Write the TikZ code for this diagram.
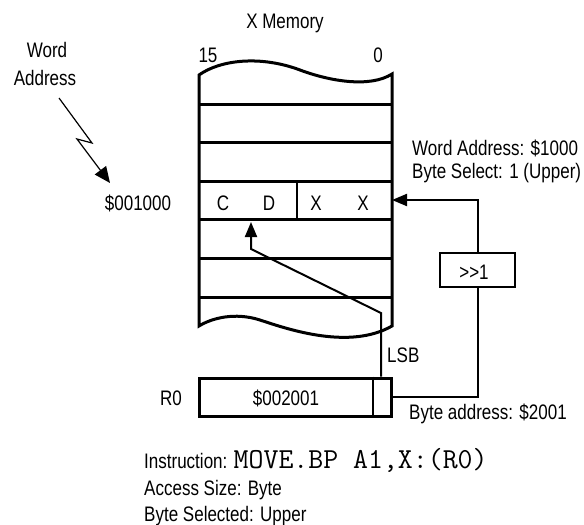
\documentclass[tikz,border=0pt]{standalone}
\usepackage{fontspec}
\setmainfont{Liberation Sans}[FakeStretch=0.81]
\usetikzlibrary{arrows.meta}
\begin{document}
\begin{tikzpicture}[x=1pt,y=-1pt,
  heavy/.style={line width=3pt},
  conn/.style={line width=2pt},
  txt/.style={inner sep=0pt, font=\fontsize{21}{27}\selectfont},
  tiparrow/.style={-{Triangle[length=15pt,width=12pt]}},
  boltarrow/.style={line width=1.2pt,-{Triangle[length=16pt,width=14pt]}}]
\useasboundingbox (0,0) rectangle (584,525);

% --- texts
\node[txt, anchor=base] (title) at (285,28) {X Memory};
\node[txt, anchor=base] (b15) at (208,62) {15};
\node[txt, anchor=base] (b0) at (378,62) {0};
\node[txt, anchor=base] (wlbl1) at (47,57) {Word};
\node[txt, anchor=base] (wlbl2) at (45,85) {Address};
\node[txt, anchor=base] (addr) at (138,210) {\$001000};
\node[txt, anchor=base] (tc) at (223,210) {C};
\node[txt, anchor=base] (td) at (269,210) {D};
\node[txt, anchor=base] (tx1) at (316,210) {X};
\node[txt, anchor=base] (tx2) at (363,210) {X};
\node[txt, anchor=base west] (wa) at (412,155) {Word Address: \$1000};
\node[txt, anchor=base west] (bs) at (412,178) {Byte Select: 1 (Upper)};
\node[txt, anchor=base west] (lsb) at (387,362) {LSB};
\node[txt, anchor=base west] (ba) at (409,419) {Byte address: \$2001};
\node[txt, anchor=base] (r0) at (171,405) {R0};
\node[txt, anchor=base west] (ins) at (144,468) {Instruction: {\fontsize{29}{29}\selectfont\ttfamily MOVE.BP A1,X:(R0)}};
\node[txt, anchor=base west] (acc) at (144,495) {Access Size: Byte};
\node[txt, anchor=base west] (sel) at (144,521) {Byte Selected: Upper};

% --- memory outline
\draw[heavy, line join=miter]
  (199,75) .. controls (220,60) and (260,55) .. (300,70)
  .. controls (330,81.25) and (370,88) .. (392,74)
  -- (392,326)
  .. controls (350,350) and (290,330) .. (260,320)
  .. controls (235,312) and (212,318) .. (199,326) -- cycle;
\foreach \yy in {104,142,181,219,258,297}
  \draw[heavy] (199,\yy) -- (392,\yy);
\draw[line width=2pt] (297,181) -- (297,219);
\node[minimum width=193pt, minimum height=38pt, inner sep=0pt, outer sep=0pt] (row) at (295.5,200) {};

% --- register R0
\node[draw, heavy, minimum width=192pt, minimum height=38pt, inner sep=0pt] (reg) at (295,397) {};
\node[txt, anchor=base] (regval) at (286,405) {\$002001};
\coordinate (divx) at (373,397);
\draw[line width=2pt] (reg.north -| divx) -- (reg.south -| divx);

% --- shift box
\node[draw, line width=2.7pt, minimum width=75pt, minimum height=34pt, inner sep=0pt] (shift) at (477.5,270) {};
\node[txt, anchor=base] (shifttxt) at (474,279) {>\kern0pt>\kern0pt1};

% --- connectors
\coordinate (lsbx) at (381,397);
\coordinate (bendA) at (381,313);
\coordinate (bendB) at (251,249);
\coordinate (dtip) at (251,222);
\draw[conn, tiparrow, line join=miter] (reg.north -| lsbx) -- (bendA) -- (bendB) -- (dtip);

\draw[conn, tiparrow] (shift.north) |- (row.east);
\draw[conn] (shift.south) |- (reg.east);

% --- word address bolt
\coordinate (za) at (59,98);
\coordinate (zb) at (92,143);
\coordinate (zc) at (77,139);
\coordinate (zd) at (110,183);
\draw[boltarrow] (za) -- (zb) -- (zc) -- (zd);
\end{tikzpicture}
\end{document}
